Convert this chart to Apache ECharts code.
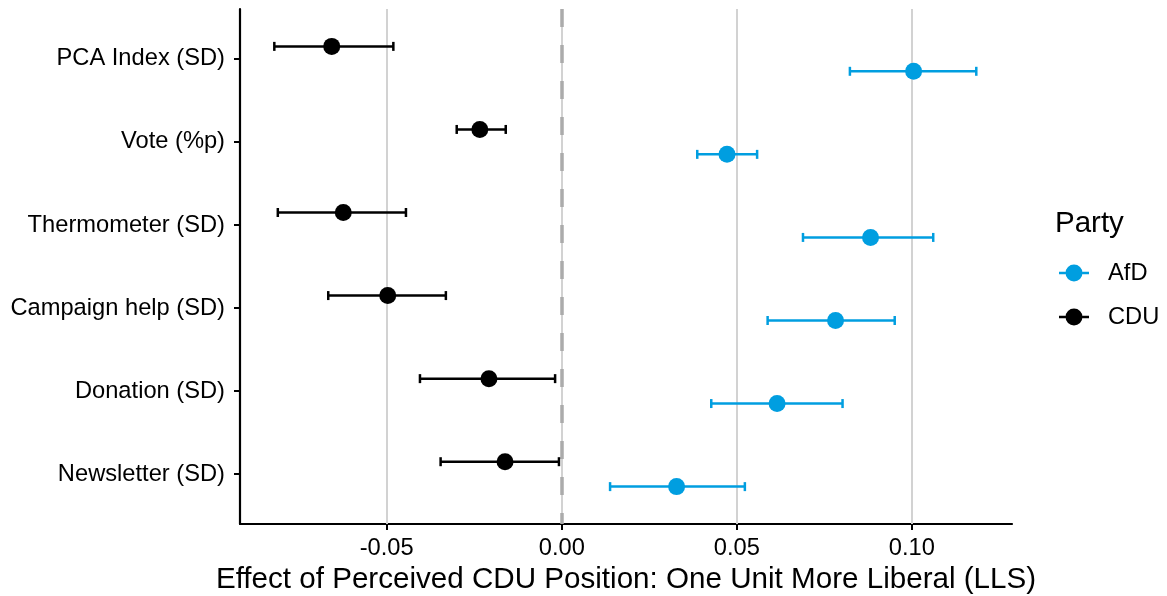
<!DOCTYPE html>
<html><head><meta charset="utf-8">
<script src="https://cdn.jsdelivr.net/npm/echarts@6/dist/echarts.min.js"></script>
<style>html,body{margin:0;padding:0;background:#fff}#c{width:1167px;height:596px}</style>
</head><body><div id="c"></div>
<script>
const categories = ['PCA Index (SD)', 'Vote (%p)', 'Thermometer (SD)', 'Campaign help (SD)', 'Donation (SD)', 'Newsletter (SD)'];
const cduEst = [-0.0657, -0.0234, -0.0624, -0.0497, -0.0208, -0.0162];
const cduLo  = [-0.0821, -0.0300, -0.0811, -0.0667, -0.0405, -0.0346];
const cduHi  = [-0.0481, -0.0160, -0.0445, -0.0331, -0.0019, -0.0008];
const afdEst = [0.1005, 0.0472, 0.0882, 0.0782, 0.0615, 0.0328];
const afdLo  = [0.0823, 0.0387, 0.0689, 0.0588, 0.0427, 0.0138];
const afdHi  = [0.1184, 0.0558, 0.1061, 0.0951, 0.0802, 0.0523];
const xTicks = [-0.05, 0.00, 0.05, 0.10];
const parties = ['AfD', 'CDU'];

const FONT = "'Liberation Sans', Arial, Helvetica, sans-serif";
const AFD_COLOR = '#009EE0';
const CDU_COLOR = '#000000';
const DODGE = 0.15;
const yPos = categories.map((c, i) => i + 1);

function errRender(params, api) {
  const y = api.value(0), lo = api.value(1), hi = api.value(2);
  const p1 = api.coord([lo, y]), p2 = api.coord([hi, y]);
  const style = { stroke: api.visual('color'), lineWidth: 2.5 };
  return { type: 'group', children: [
    { type: 'line', shape: { x1: p1[0], y1: p1[1], x2: p2[0], y2: p2[1] }, style },
    { type: 'line', shape: { x1: p1[0], y1: p1[1] - 4.5, x2: p1[0], y2: p1[1] + 4.5 }, style },
    { type: 'line', shape: { x1: p2[0], y1: p2[1] - 4.5, x2: p2[0], y2: p2[1] + 4.5 }, style }
  ]};
}

const cduErr = yPos.map((y, i) => [y - DODGE, cduLo[i], cduHi[i]]);
const afdErr = yPos.map((y, i) => [y + DODGE, afdLo[i], afdHi[i]]);
const cduPts = yPos.map((y, i) => [cduEst[i], y - DODGE]);
const afdPts = yPos.map((y, i) => [afdEst[i], y + DODGE]);

const legendIcon = 'path://M0,7.25 L6.6,7.25 L6.6,9.75 L0,9.75 Z M23.4,7.25 L30,7.25 L30,9.75 L23.4,9.75 Z M6.5,8.5 A8.5,8.5 0 1,1 23.5,8.5 A8.5,8.5 0 1,1 6.5,8.5 Z';

const chart = echarts.init(document.getElementById('c'), null, { renderer: 'canvas' });
chart.setOption({
  animation: false,
  backgroundColor: '#fff',
  textStyle: { fontFamily: FONT },
  title: {
    text: 'Party', left: 1055, top: 209, padding: 0,
    textStyle: { fontFamily: FONT, fontSize: 29.5, fontWeight: 'normal', color: '#000' }
  },
  legend: {
    orient: 'vertical', left: 1059, top: 261, itemWidth: 30, itemHeight: 17, itemGap: 20,
    padding: 0,
    data: parties.map(p => ({ name: p, icon: legendIcon })),
    textStyle: { fontFamily: FONT, fontSize: 23.7, color: '#000', padding: [0, 0, 0, 14] }
  },
  grid: { left: 240, right: 155, top: 9, bottom: 72, containLabel: false, outerBoundsMode: 'none' },
  xAxis: {
    type: 'value', min: -0.0919, max: 0.1286,
    name: 'Effect of Perceived CDU Position: One Unit More Liberal (LLS)',
    nameLocation: 'middle', nameGap: 37,
    nameTextStyle: { fontFamily: FONT, fontSize: 29.6, color: '#000' },
    axisLine: { show: true, onZero: false, lineStyle: { color: '#000', width: 2.2 } },
    axisTick: { show: true, customValues: xTicks, length: 6, lineStyle: { color: '#000', width: 2 } },
    axisLabel: { customValues: xTicks, margin: 12, fontFamily: FONT, fontSize: 23.7, color: '#000',
      formatter: v => v.toFixed(2) },
    splitLine: { show: false }
  },
  yAxis: {
    type: 'value', inverse: true, min: 0.4, max: 6.6,
    axisLine: { show: true, onZero: false, lineStyle: { color: '#000', width: 2.2 } },
    axisTick: { show: true, customValues: yPos, length: 6, lineStyle: { color: '#000', width: 2 } },
    axisLabel: { customValues: yPos, margin: 15, fontFamily: FONT, fontSize: 23.7, color: '#000',
      formatter: v => categories[Math.round(v) - 1] || '' },
    splitLine: { show: false }
  },
  series: [
    {
      type: 'scatter', name: 'grid', data: [], silent: true, z: 1,
      markLine: {
        silent: true, symbol: 'none', z: 1, animation: false, label: { show: false },
        lineStyle: { color: '#d2d2d2', width: 2, type: 'solid' },
        data: xTicks.map(v => ({ xAxis: v }))
      }
    },
    {
      type: 'scatter', name: 'zero', data: [], silent: true, z: 1,
      markLine: {
        silent: true, symbol: 'none', z: 1.5, animation: false, label: { show: false },
        lineStyle: { color: '#ababab', width: 3.5, type: [18, 18] },
        data: [{ xAxis: 0 }]
      }
    },
    {
      type: 'scatter', name: 'AfD', data: afdPts, symbol: 'circle', symbolSize: 17, z: 4,
      itemStyle: { color: AFD_COLOR, opacity: 1 }
    },
    {
      type: 'scatter', name: 'CDU', data: cduPts, symbol: 'circle', symbolSize: 17, z: 4,
      itemStyle: { color: CDU_COLOR, opacity: 1 }
    },
    {
      type: 'custom', name: 'AfD', data: afdErr, renderItem: errRender, z: 3,
      encode: { x: [1, 2], y: 0 }, itemStyle: { color: AFD_COLOR }
    },
    {
      type: 'custom', name: 'CDU', data: cduErr, renderItem: errRender, z: 3,
      encode: { x: [1, 2], y: 0 }, itemStyle: { color: CDU_COLOR }
    }
  ]
});
</script>
</body></html>
